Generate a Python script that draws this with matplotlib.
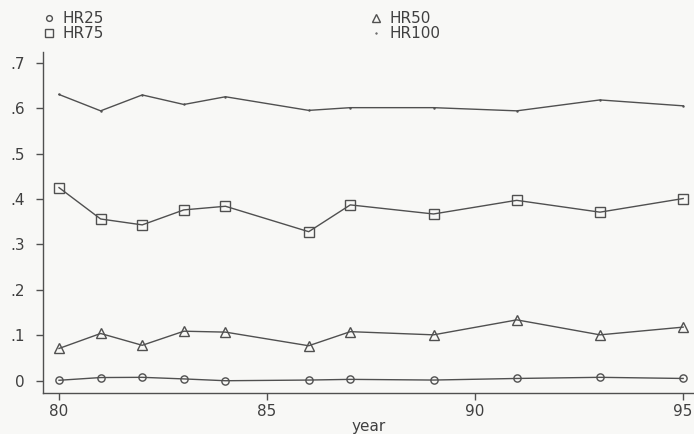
import matplotlib
matplotlib.use('Agg')
import matplotlib.pyplot as plt
from matplotlib.ticker import FuncFormatter

# ======================== DATA ========================
years = [80, 81, 82, 83, 84, 86, 87, 89, 91, 93, 95]
hr25 = [0.001, 0.007, 0.0075, 0.004, 0.0, 0.0015, 0.003, 0.0015, 0.005, 0.0075, 0.005]
hr50 = [0.071, 0.104, 0.078, 0.109, 0.107, 0.077, 0.108, 0.101, 0.134, 0.101, 0.118]
hr75 = [0.425, 0.356, 0.343, 0.376, 0.384, 0.328, 0.387, 0.367, 0.397, 0.371, 0.401]
hr100 = [0.630, 0.594, 0.629, 0.608, 0.625, 0.595, 0.601, 0.601, 0.594, 0.618, 0.605]

y_ticks = [0, 0.1, 0.2, 0.3, 0.4, 0.5, 0.6, 0.7]
x_ticks = [80, 85, 90, 95]

LINE = '#505050'
TEXT = '#404040'
BG = '#f8f8f6'

plt.rcParams['font.family'] = ['DejaVu Sans']

# ======================== PLOT ========================
fig = plt.figure(figsize=(6.94, 4.34), dpi=100, facecolor=BG)
ax = fig.add_axes([43 / 694, 41 / 434, 651 / 694, 341 / 434])
ax.set_facecolor(BG)

common = dict(color=LINE, lw=1.0, mfc='none', mec=LINE, mew=1.0)
l25, = ax.plot(years, hr25, marker='o', ms=5.2, label='HR25', **common)
l50, = ax.plot(years, hr50, marker='^', ms=6.5, label='HR50', **common)
l75, = ax.plot(years, hr75, marker='s', ms=6.5, label='HR75', **common)
l100, = ax.plot(years, hr100, marker='.', ms=1.5, label='HR100', **common)

ax.set_xlim(79.615, 95.26)
ax.set_ylim(-0.027, 0.7235)
ax.set_xticks(x_ticks)
ax.set_yticks(y_ticks)
ax.yaxis.set_major_formatter(FuncFormatter(lambda v, p: '0' if abs(v) < 1e-9 else ('%.1f' % v)[1:]))

for s in ['top', 'right']:
    ax.spines[s].set_visible(False)
for s in ['left', 'bottom']:
    ax.spines[s].set_color(LINE)
    ax.spines[s].set_linewidth(1.0)

ax.tick_params(axis='both', colors=LINE, labelcolor=TEXT, labelsize=11, length=5, width=1.0)
ax.tick_params(axis='y', pad=8)
ax.tick_params(axis='x', pad=3)
ax.set_xlabel('year', fontsize=11, color=TEXT, labelpad=0)

# legend: two columns above the plot
leg_kw = dict(frameon=False, handlelength=0, handletextpad=0.9, fontsize=11,
              labelcolor=TEXT, labelspacing=0.0, borderaxespad=0, borderpad=0,
              loc='upper left', markerscale=0.8)
leg1 = fig.legend([l25, l75], ['HR25', 'HR75'], bbox_to_anchor=(49 / 694, 1 - 11 / 434), **leg_kw)
leg2 = fig.legend([l50, l100], ['HR50', 'HR100'], bbox_to_anchor=(376 / 694, 1 - 11 / 434), **leg_kw)

plt.savefig('out.png', dpi=100, facecolor=BG)
